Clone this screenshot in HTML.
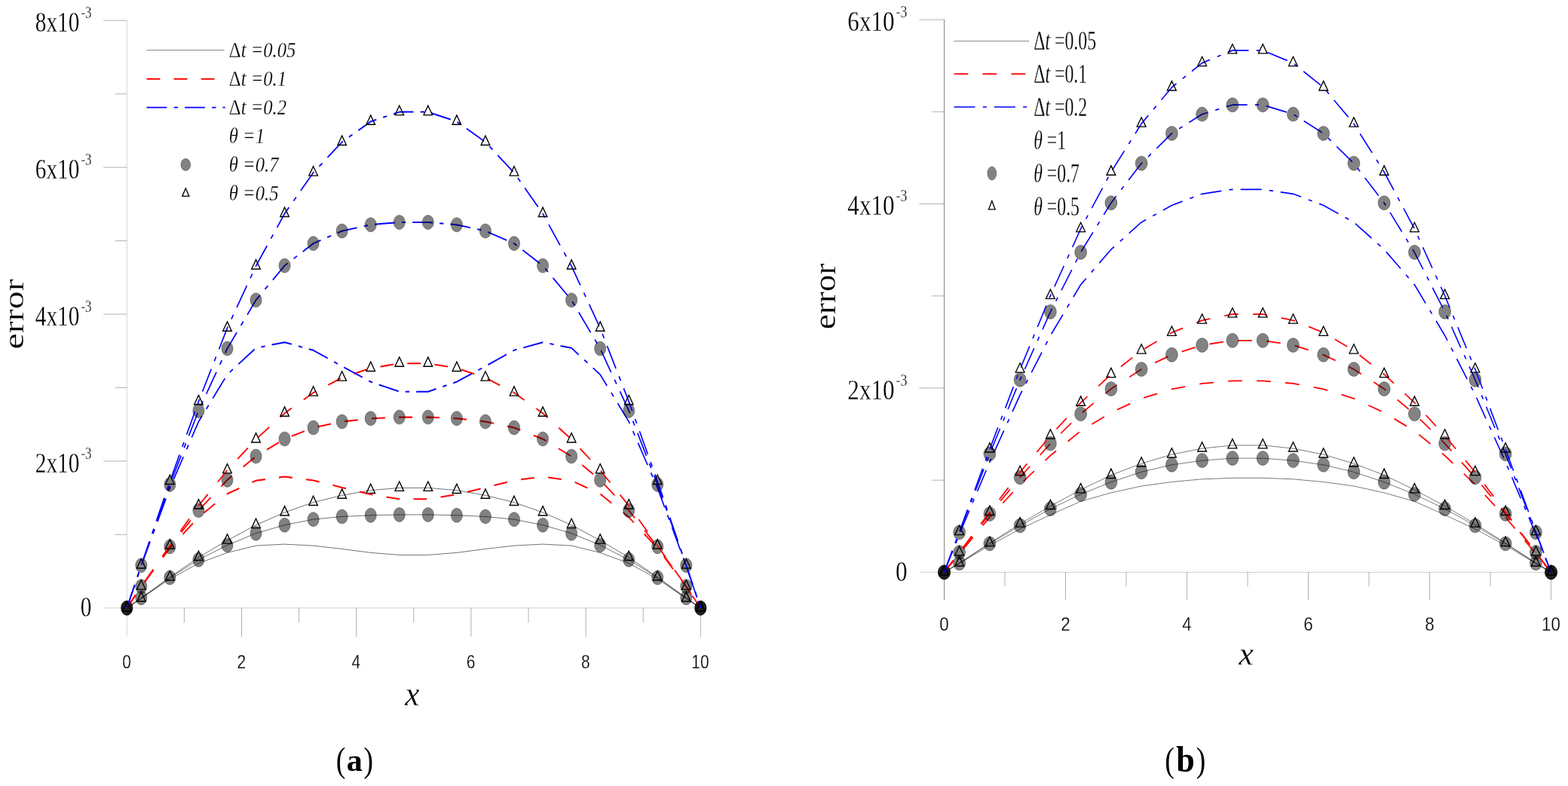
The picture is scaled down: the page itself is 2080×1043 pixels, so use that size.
<!DOCTYPE html>
<html lang="en">
<head>
<meta charset="utf-8">
<title>Error profiles for different time steps</title>
<style>
html,body{margin:0;padding:0;background:#fff;}
body{width:2080px;height:1043px;overflow:hidden;}
svg{display:block;}
text{fill:#000;}
.thin{stroke:#fff;stroke-width:.25px;}
.ts{font-family:"Liberation Serif","DejaVu Serif",serif;}
.ti{font-family:"Liberation Serif","DejaVu Serif",serif;font-style:italic;}
.tb{font-family:"Liberation Serif","DejaVu Serif",serif;font-weight:bold;}
.ta{font-family:"Liberation Sans","DejaVu Sans",sans-serif;}
.ax{fill:none;stroke:#000;stroke-width:.5;}
.tk{fill:none;stroke:#000;stroke-width:.5;stroke-opacity:.62;}
.ln{fill:none;stroke-linecap:butt;stroke-linejoin:round;}
.dot{fill:#000;fill-opacity:.49;stroke:#000;stroke-opacity:.4;stroke-width:.8;}
.tri{fill:none;stroke:#000;stroke-width:1.35;stroke-linejoin:miter;}
</style>
</head>
<body>
<svg width="2080" height="1043" viewBox="0 0 2080 1043">
<defs>
<path id="triL" class="tri" d="M0,-8.4 L5.8,3.95 L-5.8,3.95 Z"/>
<path id="triR" class="tri" d="M0,-8.4 L5.9,3.95 L-5.9,3.95 Z"/>
</defs>
<rect width="2080" height="1043" fill="#fff"/>

<g id="panel-a">
<g class="axes">
<path class="ax" stroke-opacity="0.33" d="M168.3 27.2 V844.8"/>
<path class="ax" stroke-opacity="0.36" d="M137.3 806.8 H929.3"/>
<path class="tk" d="M152.8 709.35 H168.3 M137.3 611.9 H168.3 M152.8 514.45 H168.3 M137.3 417 H168.3 M152.8 319.55 H168.3 M137.3 222.1 H168.3 M152.8 124.65 H168.3 M137.3 27.2 H168.3 M244.4 806.8 V826 M320.5 806.8 V844.8 M396.6 806.8 V826 M472.7 806.8 V844.8 M548.8 806.8 V826 M624.9 806.8 V844.8 M701 806.8 V826 M777.1 806.8 V844.8 M853.2 806.8 V826 M929.3 806.8 V844.8"/>
</g>
<g class="series">
<path class="ln" transform="scale(1 1.245)" d="M168.3 648.03 L187.33 637.91 L225.38 617.11 L263.43 600.32 L301.48 589.08 L339.52 581.61 L377.57 580 L415.62 581.61 L453.68 585.06 L491.72 589.08 L529.77 591.49 L567.83 591.49 L605.88 589.08 L643.92 585.06 L681.97 581.61 L720.02 580 L758.08 581.61 L796.12 589.08 L834.17 600.32 L872.22 617.11 L910.27 637.91 L929.3 648.03" stroke="#000" stroke-width="0.5"/>
<path class="ln" transform="scale(1 1.245)" d="M168.3 648.03 L187.33 637.11 L225.38 615.66 L263.43 596.63 L301.48 581.04 L339.52 568.43 L377.57 559.6 L415.62 553.57 L453.68 550.6 L491.72 549.24 L529.77 548.59 L567.83 548.59 L605.88 549.24 L643.92 550.6 L681.97 553.57 L720.02 559.6 L758.08 568.43 L796.12 581.04 L834.17 596.63 L872.22 615.66 L910.27 637.11 L929.3 648.03" stroke="#000" stroke-width="0.5"/>
<ellipse class="dot" cx="168.3" cy="806.8" rx="7.6" ry="9.5"/>
<ellipse class="dot" cx="187.33" cy="793.2" rx="7.6" ry="9.5"/>
<ellipse class="dot" cx="225.38" cy="766.5" rx="7.6" ry="9.5"/>
<ellipse class="dot" cx="263.43" cy="742.8" rx="7.6" ry="9.5"/>
<ellipse class="dot" cx="301.48" cy="723.4" rx="7.6" ry="9.5"/>
<ellipse class="dot" cx="339.52" cy="707.7" rx="7.6" ry="9.5"/>
<ellipse class="dot" cx="377.57" cy="696.7" rx="7.6" ry="9.5"/>
<ellipse class="dot" cx="415.62" cy="689.2" rx="7.6" ry="9.5"/>
<ellipse class="dot" cx="453.68" cy="685.5" rx="7.6" ry="9.5"/>
<ellipse class="dot" cx="491.72" cy="683.8" rx="7.6" ry="9.5"/>
<ellipse class="dot" cx="529.77" cy="683" rx="7.6" ry="9.5"/>
<ellipse class="dot" cx="567.83" cy="683" rx="7.6" ry="9.5"/>
<ellipse class="dot" cx="605.88" cy="683.8" rx="7.6" ry="9.5"/>
<ellipse class="dot" cx="643.92" cy="685.5" rx="7.6" ry="9.5"/>
<ellipse class="dot" cx="681.97" cy="689.2" rx="7.6" ry="9.5"/>
<ellipse class="dot" cx="720.02" cy="696.7" rx="7.6" ry="9.5"/>
<ellipse class="dot" cx="758.08" cy="707.7" rx="7.6" ry="9.5"/>
<ellipse class="dot" cx="796.12" cy="723.4" rx="7.6" ry="9.5"/>
<ellipse class="dot" cx="834.17" cy="742.8" rx="7.6" ry="9.5"/>
<ellipse class="dot" cx="872.22" cy="766.5" rx="7.6" ry="9.5"/>
<ellipse class="dot" cx="910.27" cy="793.2" rx="7.6" ry="9.5"/>
<ellipse class="dot" cx="929.3" cy="806.8" rx="7.6" ry="9.5"/>
<path class="ln" transform="scale(1 1.245)" d="M168.3 648.03 L187.33 637.75 L225.38 615.26 L263.43 594.06 L301.48 576.06 L339.52 559.6 L377.57 546.18 L415.62 535.42 L453.68 527.95 L491.72 522.57 L529.77 520 L567.83 520 L605.88 522.57 L643.92 527.95 L681.97 535.42 L720.02 546.18 L758.08 559.6 L796.12 576.06 L834.17 594.06 L872.22 615.26 L910.27 637.75 L929.3 648.03" stroke="#000" stroke-width="0.5"/>
<use href="#triL" x="168.3" y="806.8"/>
<use href="#triL" x="187.33" y="794"/>
<use href="#triL" x="225.38" y="766"/>
<use href="#triL" x="263.43" y="739.6"/>
<use href="#triL" x="301.48" y="717.2"/>
<use href="#triL" x="339.52" y="696.7"/>
<use href="#triL" x="377.57" y="680"/>
<use href="#triL" x="415.62" y="666.6"/>
<use href="#triL" x="453.68" y="657.3"/>
<use href="#triL" x="491.72" y="650.6"/>
<use href="#triL" x="529.77" y="647.4"/>
<use href="#triL" x="567.83" y="647.4"/>
<use href="#triL" x="605.88" y="650.6"/>
<use href="#triL" x="643.92" y="657.3"/>
<use href="#triL" x="681.97" y="666.6"/>
<use href="#triL" x="720.02" y="680"/>
<use href="#triL" x="758.08" y="696.7"/>
<use href="#triL" x="796.12" y="717.2"/>
<use href="#triL" x="834.17" y="739.6"/>
<use href="#triL" x="872.22" y="766"/>
<use href="#triL" x="910.27" y="794"/>
<use href="#triL" x="929.3" y="806.8"/>
<path class="ln" transform="scale(1 1.245)" d="M168.3 648.03 L187.33 625.46 L225.38 584.26 L263.43 551.24 L301.48 526.35 L339.52 512.29 L377.57 508.11 L415.62 511.97 L453.68 519.6 L491.72 526.99 L529.77 531.97 L567.83 531.97 L605.88 526.99 L643.92 519.6 L681.97 511.97 L720.02 508.11 L758.08 512.29 L796.12 526.35 L834.17 551.24 L872.22 584.26 L910.27 625.46 L929.3 648.03" stroke="#f00" stroke-width="1.65" stroke-dasharray="17.8 18.3"/>
<path class="ln" transform="scale(1 1.245)" d="M168.3 648.03 L187.33 625.06 L225.38 582.65 L263.43 544.02 L301.48 511.57 L339.52 486.35 L377.57 467.87 L415.62 455.82 L453.68 449.4 L491.72 446.02 L529.77 444.66 L567.83 444.66 L605.88 446.02 L643.92 449.4 L681.97 455.82 L720.02 467.87 L758.08 486.35 L796.12 511.57 L834.17 544.02 L872.22 582.65 L910.27 625.06 L929.3 648.03" stroke="#f00" stroke-width="1.65" stroke-dasharray="17.8 18.3"/>
<ellipse class="dot" cx="168.3" cy="806.8" rx="7.6" ry="9.5"/>
<ellipse class="dot" cx="187.33" cy="778.2" rx="7.6" ry="9.5"/>
<ellipse class="dot" cx="225.38" cy="725.4" rx="7.6" ry="9.5"/>
<ellipse class="dot" cx="263.43" cy="677.3" rx="7.6" ry="9.5"/>
<ellipse class="dot" cx="301.48" cy="636.9" rx="7.6" ry="9.5"/>
<ellipse class="dot" cx="339.52" cy="605.5" rx="7.6" ry="9.5"/>
<ellipse class="dot" cx="377.57" cy="582.5" rx="7.6" ry="9.5"/>
<ellipse class="dot" cx="415.62" cy="567.5" rx="7.6" ry="9.5"/>
<ellipse class="dot" cx="453.68" cy="559.5" rx="7.6" ry="9.5"/>
<ellipse class="dot" cx="491.72" cy="555.3" rx="7.6" ry="9.5"/>
<ellipse class="dot" cx="529.77" cy="553.6" rx="7.6" ry="9.5"/>
<ellipse class="dot" cx="567.83" cy="553.6" rx="7.6" ry="9.5"/>
<ellipse class="dot" cx="605.88" cy="555.3" rx="7.6" ry="9.5"/>
<ellipse class="dot" cx="643.92" cy="559.5" rx="7.6" ry="9.5"/>
<ellipse class="dot" cx="681.97" cy="567.5" rx="7.6" ry="9.5"/>
<ellipse class="dot" cx="720.02" cy="582.5" rx="7.6" ry="9.5"/>
<ellipse class="dot" cx="758.08" cy="605.5" rx="7.6" ry="9.5"/>
<ellipse class="dot" cx="796.12" cy="636.9" rx="7.6" ry="9.5"/>
<ellipse class="dot" cx="834.17" cy="677.3" rx="7.6" ry="9.5"/>
<ellipse class="dot" cx="872.22" cy="725.4" rx="7.6" ry="9.5"/>
<ellipse class="dot" cx="910.27" cy="778.2" rx="7.6" ry="9.5"/>
<ellipse class="dot" cx="929.3" cy="806.8" rx="7.6" ry="9.5"/>
<path class="ln" transform="scale(1 1.245)" d="M168.3 648.03 L187.33 625.06 L225.38 581.61 L263.43 538.96 L301.48 501.12 L339.52 468.27 L377.57 440.4 L415.62 418.63 L453.68 402.57 L491.72 392.37 L529.77 387.39 L567.83 387.39 L605.88 392.37 L643.92 402.57 L681.97 418.63 L720.02 440.4 L758.08 468.27 L796.12 501.12 L834.17 538.96 L872.22 581.61 L910.27 625.06 L929.3 648.03" stroke="#f00" stroke-width="1.65" stroke-dasharray="17.8 18.3"/>
<use href="#triL" x="168.3" y="806.8"/>
<use href="#triL" x="187.33" y="778.2"/>
<use href="#triL" x="225.38" y="724.1"/>
<use href="#triL" x="263.43" y="671"/>
<use href="#triL" x="301.48" y="623.9"/>
<use href="#triL" x="339.52" y="583"/>
<use href="#triL" x="377.57" y="548.3"/>
<use href="#triL" x="415.62" y="521.2"/>
<use href="#triL" x="453.68" y="501.2"/>
<use href="#triL" x="491.72" y="488.5"/>
<use href="#triL" x="529.77" y="482.3"/>
<use href="#triL" x="567.83" y="482.3"/>
<use href="#triL" x="605.88" y="488.5"/>
<use href="#triL" x="643.92" y="501.2"/>
<use href="#triL" x="681.97" y="521.2"/>
<use href="#triL" x="720.02" y="548.3"/>
<use href="#triL" x="758.08" y="583"/>
<use href="#triL" x="796.12" y="623.9"/>
<use href="#triL" x="834.17" y="671"/>
<use href="#triL" x="872.22" y="724.1"/>
<use href="#triL" x="910.27" y="778.2"/>
<use href="#triL" x="929.3" y="806.8"/>
<path class="ln" transform="scale(1 1.245)" d="M168.3 648.03 L187.33 603.21 L225.38 520.08 L263.43 449.4 L301.48 399.2 L339.52 370.92 L377.57 364.82 L415.62 373.33 L453.68 390.36 L491.72 406.99 L529.77 417.43 L567.83 417.43 L605.88 406.99 L643.92 390.36 L681.97 373.33 L720.02 364.82 L758.08 370.92 L796.12 399.2 L834.17 449.4 L872.22 520.08 L910.27 603.21 L929.3 648.03" stroke="#00f" stroke-width="1.6" stroke-dasharray="26.8 9.2 5.3 9"/>
<path class="ln" transform="scale(1 1.245)" d="M168.3 648.03 L187.33 602.65 L225.38 516.39 L263.43 437.67 L301.48 371.49 L339.52 319.84 L377.57 283.13 L415.62 259.52 L453.68 246.18 L491.72 239.52 L529.77 236.87 L567.83 236.87 L605.88 239.52 L643.92 246.18 L681.97 259.52 L720.02 283.13 L758.08 319.84 L796.12 371.49 L834.17 437.67 L872.22 516.39 L910.27 602.65 L929.3 648.03" stroke="#00f" stroke-width="1.6" stroke-dasharray="26.8 9.2 5.3 9"/>
<ellipse class="dot" cx="168.3" cy="806.8" rx="7.6" ry="9.5"/>
<ellipse class="dot" cx="187.33" cy="750.3" rx="7.6" ry="9.5"/>
<ellipse class="dot" cx="225.38" cy="642.9" rx="7.6" ry="9.5"/>
<ellipse class="dot" cx="263.43" cy="544.9" rx="7.6" ry="9.5"/>
<ellipse class="dot" cx="301.48" cy="462.5" rx="7.6" ry="9.5"/>
<ellipse class="dot" cx="339.52" cy="398.2" rx="7.6" ry="9.5"/>
<ellipse class="dot" cx="377.57" cy="352.5" rx="7.6" ry="9.5"/>
<ellipse class="dot" cx="415.62" cy="323.1" rx="7.6" ry="9.5"/>
<ellipse class="dot" cx="453.68" cy="306.5" rx="7.6" ry="9.5"/>
<ellipse class="dot" cx="491.72" cy="298.2" rx="7.6" ry="9.5"/>
<ellipse class="dot" cx="529.77" cy="294.9" rx="7.6" ry="9.5"/>
<ellipse class="dot" cx="567.83" cy="294.9" rx="7.6" ry="9.5"/>
<ellipse class="dot" cx="605.88" cy="298.2" rx="7.6" ry="9.5"/>
<ellipse class="dot" cx="643.92" cy="306.5" rx="7.6" ry="9.5"/>
<ellipse class="dot" cx="681.97" cy="323.1" rx="7.6" ry="9.5"/>
<ellipse class="dot" cx="720.02" cy="352.5" rx="7.6" ry="9.5"/>
<ellipse class="dot" cx="758.08" cy="398.2" rx="7.6" ry="9.5"/>
<ellipse class="dot" cx="796.12" cy="462.5" rx="7.6" ry="9.5"/>
<ellipse class="dot" cx="834.17" cy="544.9" rx="7.6" ry="9.5"/>
<ellipse class="dot" cx="872.22" cy="642.9" rx="7.6" ry="9.5"/>
<ellipse class="dot" cx="910.27" cy="750.3" rx="7.6" ry="9.5"/>
<ellipse class="dot" cx="929.3" cy="806.8" rx="7.6" ry="9.5"/>
<path class="ln" transform="scale(1 1.245)" d="M168.3 648.03 L187.33 602.49 L225.38 512.93 L263.43 427.95 L301.48 349.64 L339.52 283.53 L377.57 227.71 L415.62 184.02 L453.68 151.41 L491.72 129.56 L529.77 119.36 L567.83 119.36 L605.88 129.56 L643.92 151.41 L681.97 184.02 L720.02 227.71 L758.08 283.53 L796.12 349.64 L834.17 427.95 L872.22 512.93 L910.27 602.49 L929.3 648.03" stroke="#00f" stroke-width="1.6" stroke-dasharray="26.8 9.2 5.3 9"/>
<use href="#triL" x="168.3" y="806.8"/>
<use href="#triL" x="187.33" y="750.1"/>
<use href="#triL" x="225.38" y="638.6"/>
<use href="#triL" x="263.43" y="532.8"/>
<use href="#triL" x="301.48" y="435.3"/>
<use href="#triL" x="339.52" y="353"/>
<use href="#triL" x="377.57" y="283.5"/>
<use href="#triL" x="415.62" y="229.1"/>
<use href="#triL" x="453.68" y="188.5"/>
<use href="#triL" x="491.72" y="161.3"/>
<use href="#triL" x="529.77" y="148.6"/>
<use href="#triL" x="567.83" y="148.6"/>
<use href="#triL" x="605.88" y="161.3"/>
<use href="#triL" x="643.92" y="188.5"/>
<use href="#triL" x="681.97" y="229.1"/>
<use href="#triL" x="720.02" y="283.5"/>
<use href="#triL" x="758.08" y="353"/>
<use href="#triL" x="796.12" y="435.3"/>
<use href="#triL" x="834.17" y="532.8"/>
<use href="#triL" x="872.22" y="638.6"/>
<use href="#triL" x="910.27" y="750.1"/>
<use href="#triL" x="929.3" y="806.8"/>
</g>
<text class="ts thin" transform="translate(105.4 626.5) scale(0.793 1)" font-size="37" text-anchor="end">2x10</text>
<text class="ts thin" transform="translate(107.4 608.6) scale(0.71 1)" font-size="23.6" text-anchor="start">-3</text>
<text class="ts thin" transform="translate(105.4 431.6) scale(0.793 1)" font-size="37" text-anchor="end">4x10</text>
<text class="ts thin" transform="translate(107.4 413.7) scale(0.71 1)" font-size="23.6" text-anchor="start">-3</text>
<text class="ts thin" transform="translate(105.4 236.7) scale(0.793 1)" font-size="37" text-anchor="end">6x10</text>
<text class="ts thin" transform="translate(107.4 218.8) scale(0.71 1)" font-size="23.6" text-anchor="start">-3</text>
<text class="ts thin" transform="translate(105.4 41.8) scale(0.793 1)" font-size="37" text-anchor="end">8x10</text>
<text class="ts thin" transform="translate(107.4 23.9) scale(0.71 1)" font-size="23.6" text-anchor="start">-3</text>
<text class="ts thin" transform="translate(121.5 818.2) scale(0.793 1)" font-size="37" text-anchor="end">0</text>
<text class="ta thin" transform="translate(168 887.2) scale(0.84 1)" font-size="24.9" text-anchor="middle">0</text>
<text class="ta thin" transform="translate(320.2 887.2) scale(0.84 1)" font-size="24.9" text-anchor="middle">2</text>
<text class="ta thin" transform="translate(472.4 887.2) scale(0.84 1)" font-size="24.9" text-anchor="middle">4</text>
<text class="ta thin" transform="translate(624.6 887.2) scale(0.84 1)" font-size="24.9" text-anchor="middle">6</text>
<text class="ta thin" transform="translate(776.8 887.2) scale(0.84 1)" font-size="24.9" text-anchor="middle">8</text>
<text class="ta thin" transform="translate(929 887.2) scale(0.84 1)" font-size="24.9" text-anchor="middle">10</text>
<text class="ti thin" transform="translate(546.9 935.8) scale(0.95 1)" font-size="45.5" text-anchor="middle">x</text>
<text class="ts thin" transform="translate(31.4 416.9) rotate(-90) scale(1.245 1)" font-size="38.5" text-anchor="middle">error</text>
<path class="ln" d="M194.5 66.5 H297.5" stroke="#000" stroke-opacity=".8" stroke-width=".6"/>
<path class="ln" d="M194.5 104.8 H297.5" stroke="#f00" stroke-width="1.9" stroke-dasharray="17.8 18.3"/>
<path class="ln" d="M194.5 142.6 H298.7" stroke="#00f" stroke-width="1.9" stroke-dasharray="26.9 9.2 5.4 9"/>
<ellipse class="dot" cx="246.3" cy="218.5" rx="6.4" ry="8"/>
<path class="tri" d="M0,-6.9 L4.5,3.5 L-4.5,3.5 Z" transform="translate(246.3 256.9)"/>
<text class="ts thin" transform="translate(303.8 76) scale(.813 1)" font-size="30.3" xml:space="preserve"><tspan class="ts">&#916;</tspan><tspan class="ti">t =0.05</tspan></text>
<text class="ts thin" transform="translate(303.8 114) scale(.813 1)" font-size="30.3" xml:space="preserve"><tspan class="ts">&#916;</tspan><tspan class="ti">t =0.1</tspan></text>
<text class="ts thin" transform="translate(303.8 152) scale(.813 1)" font-size="30.3" xml:space="preserve"><tspan class="ts">&#916;</tspan><tspan class="ti">t =0.2</tspan></text>
<text class="ts thin" transform="translate(303.8 190) scale(.813 1)" font-size="30.3" xml:space="preserve"><tspan class="ts"></tspan><tspan class="ti">&#952; =1</tspan></text>
<text class="ts thin" transform="translate(303.8 228) scale(.813 1)" font-size="30.3" xml:space="preserve"><tspan class="ts"></tspan><tspan class="ti">&#952; =0.7</tspan></text>
<text class="ts thin" transform="translate(303.8 266) scale(.813 1)" font-size="30.3" xml:space="preserve"><tspan class="ts"></tspan><tspan class="ti">&#952; =0.5</tspan></text>
<text class="ts" transform="translate(451.9 1023.7) scale(0.8 1)" font-size="47" text-anchor="middle">(</text>
<text class="tb" transform="translate(470.2 1023.4) scale(0.98 1)" font-size="43" text-anchor="middle">a</text>
<text class="ts" transform="translate(488.8 1023.7) scale(0.8 1)" font-size="47" text-anchor="middle">)</text>
</g>
<g id="panel-b">
<g class="axes">
<path class="ax" stroke-opacity="0.95" d="M1252.5 26.08 V796.4"/>
<path class="ax" stroke-opacity="0.4" d="M1219.5 759.4 H2057.5"/>
<path class="tk" d="M1236 637.18 H1252.5 M1219.5 514.96 H1252.5 M1236 392.74 H1252.5 M1219.5 270.52 H1252.5 M1236 148.3 H1252.5 M1219.5 26.08 H1252.5 M1333 759.4 V777.9 M1413.5 759.4 V796.4 M1494 759.4 V777.9 M1574.5 759.4 V796.4 M1655 759.4 V777.9 M1735.5 759.4 V796.4 M1816 759.4 V777.9 M1896.5 759.4 V796.4 M1977 759.4 V777.9 M2057.5 759.4 V796.4"/>
</g>
<g class="series">
<path class="ln" transform="scale(1 1.102)" d="M1252.5 689.11 L1272.62 678.58 L1312.88 656.72 L1353.12 637.02 L1393.38 619.96 L1433.62 603.72 L1473.88 593.38 L1514.12 585.3 L1554.38 580.31 L1594.62 576.95 L1634.88 575.59 L1675.12 575.59 L1715.38 576.95 L1755.62 580.31 L1795.88 585.3 L1836.12 593.38 L1876.38 603.72 L1916.62 619.96 L1956.88 637.02 L1997.12 656.72 L2037.38 678.58 L2057.5 689.11" stroke="#000" stroke-width="0.5"/>
<path class="ln" transform="scale(1 1.102)" d="M1252.5 689.11 L1272.62 678.13 L1312.88 654.63 L1353.12 632.94 L1393.38 612.79 L1433.62 595.19 L1473.88 580.49 L1514.12 568.33 L1554.38 559.71 L1594.62 554.54 L1634.88 551.81 L1675.12 551.81 L1715.38 554.54 L1755.62 559.71 L1795.88 568.33 L1836.12 580.49 L1876.38 595.19 L1916.62 612.79 L1956.88 632.94 L1997.12 654.63 L2037.38 678.13 L2057.5 689.11" stroke="#000" stroke-width="0.5"/>
<ellipse class="dot" cx="1252.5" cy="759.4" rx="8.0" ry="9.5"/>
<ellipse class="dot" cx="1272.62" cy="747.3" rx="8.0" ry="9.5"/>
<ellipse class="dot" cx="1312.88" cy="721.4" rx="8.0" ry="9.5"/>
<ellipse class="dot" cx="1353.12" cy="697.5" rx="8.0" ry="9.5"/>
<ellipse class="dot" cx="1393.38" cy="675.3" rx="8.0" ry="9.5"/>
<ellipse class="dot" cx="1433.62" cy="655.9" rx="8.0" ry="9.5"/>
<ellipse class="dot" cx="1473.88" cy="639.7" rx="8.0" ry="9.5"/>
<ellipse class="dot" cx="1514.12" cy="626.3" rx="8.0" ry="9.5"/>
<ellipse class="dot" cx="1554.38" cy="616.8" rx="8.0" ry="9.5"/>
<ellipse class="dot" cx="1594.62" cy="611.1" rx="8.0" ry="9.5"/>
<ellipse class="dot" cx="1634.88" cy="608.1" rx="8.0" ry="9.5"/>
<ellipse class="dot" cx="1675.12" cy="608.1" rx="8.0" ry="9.5"/>
<ellipse class="dot" cx="1715.38" cy="611.1" rx="8.0" ry="9.5"/>
<ellipse class="dot" cx="1755.62" cy="616.8" rx="8.0" ry="9.5"/>
<ellipse class="dot" cx="1795.88" cy="626.3" rx="8.0" ry="9.5"/>
<ellipse class="dot" cx="1836.12" cy="639.7" rx="8.0" ry="9.5"/>
<ellipse class="dot" cx="1876.38" cy="655.9" rx="8.0" ry="9.5"/>
<ellipse class="dot" cx="1916.62" cy="675.3" rx="8.0" ry="9.5"/>
<ellipse class="dot" cx="1956.88" cy="697.5" rx="8.0" ry="9.5"/>
<ellipse class="dot" cx="1997.12" cy="721.4" rx="8.0" ry="9.5"/>
<ellipse class="dot" cx="2037.38" cy="747.3" rx="8.0" ry="9.5"/>
<ellipse class="dot" cx="2057.5" cy="759.4" rx="8.0" ry="9.5"/>
<path class="ln" transform="scale(1 1.102)" d="M1252.5 689.11 L1272.62 677.95 L1312.88 653.99 L1353.12 630.85 L1393.38 609.44 L1433.62 589.75 L1473.88 572.14 L1514.12 558.17 L1554.38 547.28 L1594.62 540.02 L1634.88 536.21 L1675.12 536.21 L1715.38 540.02 L1755.62 547.28 L1795.88 558.17 L1836.12 572.14 L1876.38 589.75 L1916.62 609.44 L1956.88 630.85 L1997.12 653.99 L2037.38 677.95 L2057.5 689.11" stroke="#000" stroke-width="0.5"/>
<use href="#triR" x="1252.5" y="759.4"/>
<use href="#triR" x="1272.62" y="747.1"/>
<use href="#triR" x="1312.88" y="720.7"/>
<use href="#triR" x="1353.12" y="695.2"/>
<use href="#triR" x="1393.38" y="671.6"/>
<use href="#triR" x="1433.62" y="649.9"/>
<use href="#triR" x="1473.88" y="630.5"/>
<use href="#triR" x="1514.12" y="615.1"/>
<use href="#triR" x="1554.38" y="603.1"/>
<use href="#triR" x="1594.62" y="595.1"/>
<use href="#triR" x="1634.88" y="590.9"/>
<use href="#triR" x="1675.12" y="590.9"/>
<use href="#triR" x="1715.38" y="595.1"/>
<use href="#triR" x="1755.62" y="603.1"/>
<use href="#triR" x="1795.88" y="615.1"/>
<use href="#triR" x="1836.12" y="630.5"/>
<use href="#triR" x="1876.38" y="649.9"/>
<use href="#triR" x="1916.62" y="671.6"/>
<use href="#triR" x="1956.88" y="695.2"/>
<use href="#triR" x="1997.12" y="720.7"/>
<use href="#triR" x="2037.38" y="747.1"/>
<use href="#triR" x="2057.5" y="759.4"/>
<path class="ln" transform="scale(1 1.102)" d="M1252.5 689.11 L1272.62 666.88 L1312.88 622.87 L1353.12 583.48 L1393.38 548.55 L1433.62 519.06 L1473.88 496.82 L1514.12 479.85 L1554.38 468.6 L1594.62 461.8 L1634.88 458.62 L1675.12 458.62 L1715.38 461.8 L1755.62 468.6 L1795.88 479.85 L1836.12 496.82 L1876.38 519.06 L1916.62 548.55 L1956.88 583.48 L1997.12 622.87 L2037.38 666.88 L2057.5 689.11" stroke="#f00" stroke-width="1.65" stroke-dasharray="18.75 19.25"/>
<path class="ln" transform="scale(1 1.102)" d="M1252.5 689.11 L1272.62 665.25 L1312.88 618.87 L1353.12 574.77 L1393.38 534.12 L1433.62 498.37 L1473.88 468.24 L1514.12 444.65 L1554.38 427.22 L1594.62 415.61 L1634.88 409.98 L1675.12 409.98 L1715.38 415.61 L1755.62 427.22 L1795.88 444.65 L1836.12 468.24 L1876.38 498.37 L1916.62 534.12 L1956.88 574.77 L1997.12 618.87 L2037.38 665.25 L2057.5 689.11" stroke="#f00" stroke-width="1.65" stroke-dasharray="18.75 19.25"/>
<ellipse class="dot" cx="1252.5" cy="759.4" rx="8.0" ry="9.5"/>
<ellipse class="dot" cx="1272.62" cy="733.1" rx="8.0" ry="9.5"/>
<ellipse class="dot" cx="1312.88" cy="682" rx="8.0" ry="9.5"/>
<ellipse class="dot" cx="1353.12" cy="633.4" rx="8.0" ry="9.5"/>
<ellipse class="dot" cx="1393.38" cy="588.6" rx="8.0" ry="9.5"/>
<ellipse class="dot" cx="1433.62" cy="549.2" rx="8.0" ry="9.5"/>
<ellipse class="dot" cx="1473.88" cy="516" rx="8.0" ry="9.5"/>
<ellipse class="dot" cx="1514.12" cy="490" rx="8.0" ry="9.5"/>
<ellipse class="dot" cx="1554.38" cy="470.8" rx="8.0" ry="9.5"/>
<ellipse class="dot" cx="1594.62" cy="458" rx="8.0" ry="9.5"/>
<ellipse class="dot" cx="1634.88" cy="451.8" rx="8.0" ry="9.5"/>
<ellipse class="dot" cx="1675.12" cy="451.8" rx="8.0" ry="9.5"/>
<ellipse class="dot" cx="1715.38" cy="458" rx="8.0" ry="9.5"/>
<ellipse class="dot" cx="1755.62" cy="470.8" rx="8.0" ry="9.5"/>
<ellipse class="dot" cx="1795.88" cy="490" rx="8.0" ry="9.5"/>
<ellipse class="dot" cx="1836.12" cy="516" rx="8.0" ry="9.5"/>
<ellipse class="dot" cx="1876.38" cy="549.2" rx="8.0" ry="9.5"/>
<ellipse class="dot" cx="1916.62" cy="588.6" rx="8.0" ry="9.5"/>
<ellipse class="dot" cx="1956.88" cy="633.4" rx="8.0" ry="9.5"/>
<ellipse class="dot" cx="1997.12" cy="682" rx="8.0" ry="9.5"/>
<ellipse class="dot" cx="2037.38" cy="733.1" rx="8.0" ry="9.5"/>
<ellipse class="dot" cx="2057.5" cy="759.4" rx="8.0" ry="9.5"/>
<path class="ln" transform="scale(1 1.102)" d="M1252.5 689.11 L1272.62 665.25 L1312.88 616.61 L1353.12 568.69 L1393.38 524.59 L1433.62 484.85 L1473.88 450.73 L1514.12 422.05 L1554.38 400.54 L1594.62 385.75 L1634.88 378.31 L1675.12 378.31 L1715.38 385.75 L1755.62 400.54 L1795.88 422.05 L1836.12 450.73 L1876.38 484.85 L1916.62 524.59 L1956.88 568.69 L1997.12 616.61 L2037.38 665.25 L2057.5 689.11" stroke="#f00" stroke-width="1.65" stroke-dasharray="18.75 19.25"/>
<use href="#triR" x="1252.5" y="759.4"/>
<use href="#triR" x="1272.62" y="733.1"/>
<use href="#triR" x="1312.88" y="679.5"/>
<use href="#triR" x="1353.12" y="626.7"/>
<use href="#triR" x="1393.38" y="578.1"/>
<use href="#triR" x="1433.62" y="534.3"/>
<use href="#triR" x="1473.88" y="496.7"/>
<use href="#triR" x="1514.12" y="465.1"/>
<use href="#triR" x="1554.38" y="441.4"/>
<use href="#triR" x="1594.62" y="425.1"/>
<use href="#triR" x="1634.88" y="416.9"/>
<use href="#triR" x="1675.12" y="416.9"/>
<use href="#triR" x="1715.38" y="425.1"/>
<use href="#triR" x="1755.62" y="441.4"/>
<use href="#triR" x="1795.88" y="465.1"/>
<use href="#triR" x="1836.12" y="496.7"/>
<use href="#triR" x="1876.38" y="534.3"/>
<use href="#triR" x="1916.62" y="578.1"/>
<use href="#triR" x="1956.88" y="626.7"/>
<use href="#triR" x="1997.12" y="679.5"/>
<use href="#triR" x="2037.38" y="733.1"/>
<use href="#triR" x="2057.5" y="759.4"/>
<path class="ln" transform="scale(1 1.102)" d="M1252.5 689.11 L1272.62 643.38 L1312.88 556.26 L1353.12 475.5 L1393.38 403.99 L1433.62 342.83 L1473.88 300.36 L1514.12 267.6 L1554.38 247.28 L1594.62 233.48 L1634.88 228.04 L1675.12 228.04 L1715.38 233.48 L1755.62 247.28 L1795.88 267.6 L1836.12 300.36 L1876.38 342.83 L1916.62 403.99 L1956.88 475.5 L1997.12 556.26 L2037.38 643.38 L2057.5 689.11" stroke="#00f" stroke-width="1.55" stroke-dasharray="28 10.2 5.2 10"/>
<path class="ln" transform="scale(1 1.102)" d="M1252.5 689.11 L1272.62 641.11 L1312.88 546.55 L1353.12 457.17 L1393.38 375.5 L1433.62 303.81 L1473.88 244.28 L1514.12 196.73 L1554.38 160.62 L1594.62 137.57 L1634.88 126.32 L1675.12 126.32 L1715.38 137.57 L1755.62 160.62 L1795.88 196.73 L1836.12 244.28 L1876.38 303.81 L1916.62 375.5 L1956.88 457.17 L1997.12 546.55 L2037.38 641.11 L2057.5 689.11" stroke="#00f" stroke-width="1.55" stroke-dasharray="28 10.2 5.2 10"/>
<ellipse class="dot" cx="1252.5" cy="759.4" rx="8.0" ry="9.5"/>
<ellipse class="dot" cx="1272.62" cy="706.5" rx="8.0" ry="9.5"/>
<ellipse class="dot" cx="1312.88" cy="602.3" rx="8.0" ry="9.5"/>
<ellipse class="dot" cx="1353.12" cy="503.8" rx="8.0" ry="9.5"/>
<ellipse class="dot" cx="1393.38" cy="413.8" rx="8.0" ry="9.5"/>
<ellipse class="dot" cx="1433.62" cy="334.8" rx="8.0" ry="9.5"/>
<ellipse class="dot" cx="1473.88" cy="269.2" rx="8.0" ry="9.5"/>
<ellipse class="dot" cx="1514.12" cy="216.8" rx="8.0" ry="9.5"/>
<ellipse class="dot" cx="1554.38" cy="177" rx="8.0" ry="9.5"/>
<ellipse class="dot" cx="1594.62" cy="151.6" rx="8.0" ry="9.5"/>
<ellipse class="dot" cx="1634.88" cy="139.2" rx="8.0" ry="9.5"/>
<ellipse class="dot" cx="1675.12" cy="139.2" rx="8.0" ry="9.5"/>
<ellipse class="dot" cx="1715.38" cy="151.6" rx="8.0" ry="9.5"/>
<ellipse class="dot" cx="1755.62" cy="177" rx="8.0" ry="9.5"/>
<ellipse class="dot" cx="1795.88" cy="216.8" rx="8.0" ry="9.5"/>
<ellipse class="dot" cx="1836.12" cy="269.2" rx="8.0" ry="9.5"/>
<ellipse class="dot" cx="1876.38" cy="334.8" rx="8.0" ry="9.5"/>
<ellipse class="dot" cx="1916.62" cy="413.8" rx="8.0" ry="9.5"/>
<ellipse class="dot" cx="1956.88" cy="503.8" rx="8.0" ry="9.5"/>
<ellipse class="dot" cx="1997.12" cy="602.3" rx="8.0" ry="9.5"/>
<ellipse class="dot" cx="2037.38" cy="706.5" rx="8.0" ry="9.5"/>
<ellipse class="dot" cx="2057.5" cy="759.4" rx="8.0" ry="9.5"/>
<path class="ln" transform="scale(1 1.102)" d="M1252.5 689.11 L1272.62 640.38 L1312.88 540.83 L1353.12 444.74 L1393.38 356.08 L1433.62 275.5 L1473.88 207.17 L1514.12 149 L1554.38 105.26 L1594.62 75.86 L1634.88 60.71 L1675.12 60.71 L1715.38 75.86 L1755.62 105.26 L1795.88 149 L1836.12 207.17 L1876.38 275.5 L1916.62 356.08 L1956.88 444.74 L1997.12 540.83 L2037.38 640.38 L2057.5 689.11" stroke="#00f" stroke-width="1.55" stroke-dasharray="28 10.2 5.2 10"/>
<use href="#triR" x="1252.5" y="759.4"/>
<use href="#triR" x="1272.62" y="705.7"/>
<use href="#triR" x="1312.88" y="596"/>
<use href="#triR" x="1353.12" y="490.1"/>
<use href="#triR" x="1393.38" y="392.4"/>
<use href="#triR" x="1433.62" y="303.6"/>
<use href="#triR" x="1473.88" y="228.3"/>
<use href="#triR" x="1514.12" y="164.2"/>
<use href="#triR" x="1554.38" y="116"/>
<use href="#triR" x="1594.62" y="83.6"/>
<use href="#triR" x="1634.88" y="66.9"/>
<use href="#triR" x="1675.12" y="66.9"/>
<use href="#triR" x="1715.38" y="83.6"/>
<use href="#triR" x="1755.62" y="116"/>
<use href="#triR" x="1795.88" y="164.2"/>
<use href="#triR" x="1836.12" y="228.3"/>
<use href="#triR" x="1876.38" y="303.6"/>
<use href="#triR" x="1916.62" y="392.4"/>
<use href="#triR" x="1956.88" y="490.1"/>
<use href="#triR" x="1997.12" y="596"/>
<use href="#triR" x="2037.38" y="705.7"/>
<use href="#triR" x="2057.5" y="759.4"/>
</g>
<text class="ts thin" transform="translate(1186.5 529.56) scale(0.84 1)" font-size="37" text-anchor="end">2x10</text>
<text class="ts thin" transform="translate(1188.5 511.66) scale(0.75 1)" font-size="23.6" text-anchor="start">-3</text>
<text class="ts thin" transform="translate(1186.5 285.12) scale(0.84 1)" font-size="37" text-anchor="end">4x10</text>
<text class="ts thin" transform="translate(1188.5 267.22) scale(0.75 1)" font-size="23.6" text-anchor="start">-3</text>
<text class="ts thin" transform="translate(1186.5 40.68) scale(0.84 1)" font-size="37" text-anchor="end">6x10</text>
<text class="ts thin" transform="translate(1188.5 22.78) scale(0.75 1)" font-size="23.6" text-anchor="start">-3</text>
<text class="ts thin" transform="translate(1203.5 770.8) scale(0.84 1)" font-size="37" text-anchor="end">0</text>
<text class="ta thin" transform="translate(1252.5 836.5) scale(0.89 1)" font-size="25.1" text-anchor="middle">0</text>
<text class="ta thin" transform="translate(1413.5 836.5) scale(0.89 1)" font-size="25.1" text-anchor="middle">2</text>
<text class="ta thin" transform="translate(1574.5 836.5) scale(0.89 1)" font-size="25.1" text-anchor="middle">4</text>
<text class="ta thin" transform="translate(1735.5 836.5) scale(0.89 1)" font-size="25.1" text-anchor="middle">6</text>
<text class="ta thin" transform="translate(1896.5 836.5) scale(0.89 1)" font-size="25.1" text-anchor="middle">8</text>
<text class="ta thin" transform="translate(2057.5 836.5) scale(0.89 1)" font-size="25.1" text-anchor="middle">10</text>
<text class="ti thin" transform="translate(1653 881.5) scale(1.01 1)" font-size="43.5" text-anchor="middle">x</text>
<text class="ts thin" transform="translate(1107.7 393.2) rotate(-90) scale(1.085 1)" font-size="41.5" text-anchor="middle">error</text>
<path class="ln" d="M1265.5 54.5 H1365" stroke="#000" stroke-opacity=".75" stroke-width=".6"/>
<path class="ln" d="M1265.5 98.1 H1365" stroke="#f00" stroke-width="1.6" stroke-dasharray="18.75 19.25"/>
<path class="ln" d="M1265.5 142 H1365" stroke="#00f" stroke-width="1.6" stroke-dasharray="28 10.2 5.2 10"/>
<ellipse class="dot" cx="1315.8" cy="230" rx="6" ry="9"/>
<path class="tri" d="M0,-7.4 L4.3,3.8 L-4.3,3.8 Z" transform="translate(1315.8 274)"/>
<text class="ts thin" transform="translate(1371.2 65.7) scale(.68 1)" font-size="35" xml:space="preserve"><tspan class="ts">&#916;</tspan><tspan class="ti">t</tspan><tspan class="ts"> =0.05</tspan></text>
<text class="ts thin" transform="translate(1371.2 109.7) scale(.68 1)" font-size="35" xml:space="preserve"><tspan class="ts">&#916;</tspan><tspan class="ti">t</tspan><tspan class="ts"> =0.1</tspan></text>
<text class="ts thin" transform="translate(1371.2 153.7) scale(.68 1)" font-size="35" xml:space="preserve"><tspan class="ts">&#916;</tspan><tspan class="ti">t</tspan><tspan class="ts"> =0.2</tspan></text>
<text class="ts thin" transform="translate(1371.2 197.7) scale(.68 1)" font-size="35" xml:space="preserve"><tspan class="ts"></tspan><tspan class="ti">&#952;</tspan><tspan class="ts"> =1</tspan></text>
<text class="ts thin" transform="translate(1371.2 241.7) scale(.68 1)" font-size="35" xml:space="preserve"><tspan class="ts"></tspan><tspan class="ti">&#952;</tspan><tspan class="ts"> =0.7</tspan></text>
<text class="ts thin" transform="translate(1371.2 285.7) scale(.68 1)" font-size="35" xml:space="preserve"><tspan class="ts"></tspan><tspan class="ti">&#952;</tspan><tspan class="ts"> =0.5</tspan></text>
<text class="ts" transform="translate(1551.4 1023.7) scale(0.8 1)" font-size="47" text-anchor="middle">(</text>
<text class="tb" transform="translate(1572.6 1023.6) scale(0.9 1)" font-size="49" text-anchor="middle">b</text>
<text class="ts" transform="translate(1593.1 1023.7) scale(0.8 1)" font-size="47" text-anchor="middle">)</text>
</g>
</svg>
</body>
</html>
